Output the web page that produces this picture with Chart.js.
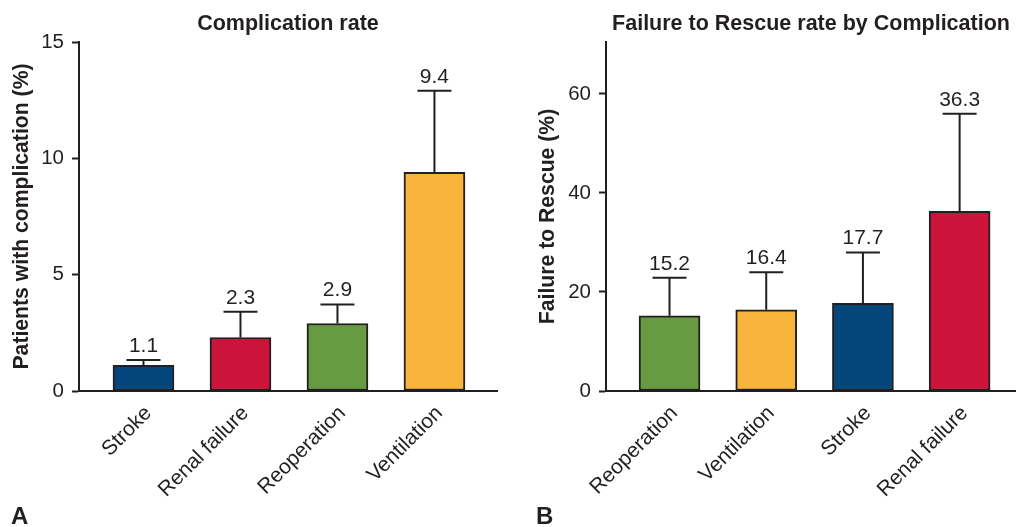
<!DOCTYPE html>
<html>
<head>
<meta charset="utf-8">
<script src="https://cdn.jsdelivr.net/npm/chart.js@4.4.1/dist/chart.umd.min.js"></script>
<style>
  html, body { margin: 0; padding: 0; background: #ffffff; }
  body { width: 1016px; height: 527px; position: relative; overflow: hidden; font-family: "Liberation Sans", Arial, Helvetica, sans-serif; }
  .wrap { position: absolute; top: 0; height: 527px; }
  #wa { left: 0; width: 505px; }
  #wb { left: 505px; width: 511px; }
  .panel { position: absolute; font-weight: bold; font-size: 24px; color: #231f20; line-height: 1; }
</style>
</head>
<body>
<div class="wrap" id="wa"><canvas id="ca" width="505" height="527"></canvas></div>
<div class="wrap" id="wb"><canvas id="cb" width="511" height="527"></canvas></div>
<div class="panel" style="left:11px; top:504px;">A</div>
<div class="panel" style="left:536px; top:504px;">B</div>
<script>
// ---- Panel A data ----
const catsA = ['Stroke', 'Renal failure', 'Reoperation', 'Ventilation'];
const ratesA = [1.1, 2.3, 2.9, 9.4];
const upperA = [1.33, 3.41, 3.72, 12.9];
const colorsA = ['#03467c', '#cc1339', '#669b41', '#f9b53b'];
const ticksA = [0, 5, 10, 15];

// ---- Panel B data ----
const catsB = ['Reoperation', 'Ventilation', 'Stroke', 'Renal failure'];
const ratesB = [15.2, 16.4, 17.7, 36.3];
const upperB = [22.9, 24.0, 28.0, 56.0];
const colorsB = ['#669b41', '#f9b53b', '#03467c', '#cc1339'];
const ticksB = [0, 20, 40, 60];

const INK = '#231f20';
const FONT = '"Liberation Sans", Arial, Helvetica, sans-serif';

function errorPlugin(upper, rates) {
  return {
    id: 'errs',
    afterDatasetsDraw(chart) {
      const ctx = chart.ctx;
      const meta = chart.getDatasetMeta(0);
      const ys = chart.scales.y;
      ctx.save();
      ctx.strokeStyle = INK;
      ctx.lineWidth = 2;
      ctx.fillStyle = INK;
      ctx.font = '21px ' + FONT;
      ctx.textAlign = 'center';
      ctx.textBaseline = 'alphabetic';
      meta.data.forEach((bar, i) => {
        const x = bar.x;
        const yb = ys.getPixelForValue(rates[i]);
        const yt = ys.getPixelForValue(upper[i]);
        ctx.beginPath();
        ctx.moveTo(x, yb);
        ctx.lineTo(x, yt);
        ctx.moveTo(x - 17, yt);
        ctx.lineTo(x + 17, yt);
        ctx.stroke();
        ctx.fillText(rates[i].toFixed(1), x, yt - 8);
      });
      ctx.restore();
    }
  };
}

function makeChart(id, cats, rates, upper, colors, yTicks, opts) {
  return new Chart(document.getElementById(id), {
    type: 'bar',
    data: {
      datasets: [{
        data: cats.map((c, i) => ({ x: i, y: rates[i] })),
        backgroundColor: colors,
        borderColor: INK,
        borderWidth: 2,
        borderSkipped: false,
        barThickness: 61
      }]
    },
    options: {
      responsive: false,
      animation: false,
      layout: { padding: { left: 0, right: opts.padRight, top: 0, bottom: 0 } },
      plugins: {
        legend: { display: false },
        tooltip: { enabled: false },
        title: {
          display: true,
          text: opts.title,
          fullSize: false,
          color: INK,
          font: { family: FONT, size: 21.5, weight: 'bold', lineHeight: 1.2 },
          padding: { top: 11.1, bottom: 5.1 }
        }
      },
      scales: {
        x: {
          type: 'linear',
          min: opts.xmin,
          max: opts.xmax,
          offset: false,
          grid: { display: false, drawTicks: false },
          border: { display: true, color: INK, width: 2 },
          ticks: {
            stepSize: 1,
            includeBounds: false,
            autoSkip: false,
            minRotation: 45,
            maxRotation: 45,
            padding: 10,
            labelOffset: 5,
            color: INK,
            font: { family: FONT, size: 21 },
            callback: (v) => Number.isInteger(v) && v >= 0 && v < cats.length ? cats[v] : ''
          },
          afterFit: (s) => { s.height = 136; }
        },
        y: {
          min: 0,
          max: opts.ymax,
          grid: { drawOnChartArea: false, drawTicks: true, tickLength: 7, tickWidth: 2, tickColor: INK },
          border: { display: true, color: INK, width: 2 },
          afterBuildTicks: (s) => { s.ticks = yTicks.map(v => ({ value: v })); },
          ticks: {
            padding: 8,
            color: INK,
            font: { family: FONT, size: 20.5 }
          },
          title: {
            display: true,
            text: opts.ytitle,
            color: INK,
            font: { family: FONT, size: 21.2, weight: 'bold', lineHeight: 1.2 },
            padding: { top: opts.ytitlePad, bottom: 0 }
          },
          afterFit: (s) => { s.width = opts.yWidth; }
        }
      }
    },
    plugins: [errorPlugin(upper, rates)]
  });
}

makeChart('ca', catsA, ratesA, upperA, colorsA, ticksA, {
  title: 'Complication rate', ytitle: 'Patients with complication (%)',
  xmin: -0.665, xmax: 3.645, ymax: 15, yWidth: 79, padRight: 8, ytitlePad: 9
});
makeChart('cb', catsB, ratesB, upperB, colorsB, ticksB, {
  title: 'Failure to Rescue rate by Complication', ytitle: 'Failure to Rescue (%)',
  xmin: -0.657, xmax: 3.583, ymax: 70.5, yWidth: 101, padRight: 0, ytitlePad: 30
});
</script>
</body>
</html>
